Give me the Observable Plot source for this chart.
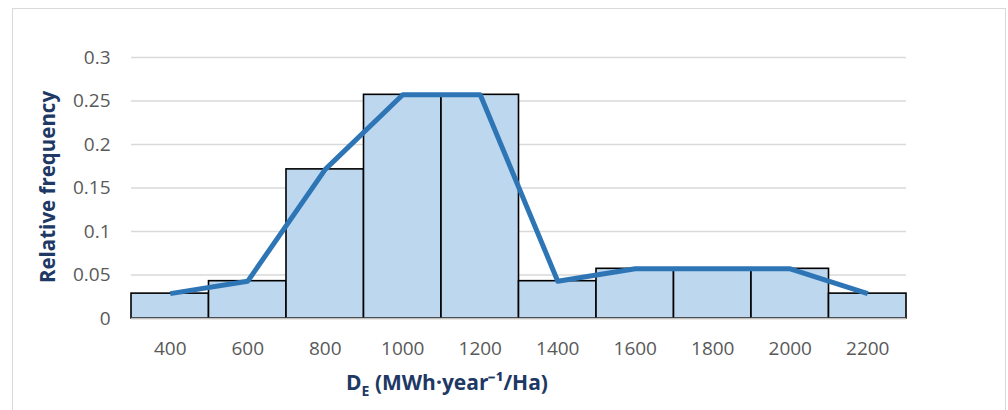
<!DOCTYPE html>
<html>
<head>
<meta charset="utf-8">
<script src="https://cdn.jsdelivr.net/npm/d3@7"></script>
<script src="https://cdn.jsdelivr.net/npm/@observablehq/plot@0.6"></script>
<style>
  body { margin: 0; background: #fff; }
  #wrap { position: relative; width: 1008px; height: 410px; overflow: hidden; }
  #border { position: absolute; left: 12px; top: 8px; width: 994px; height: 420px; border: 1.5px solid #D9D9D9; box-sizing: border-box; }
  #chart { position: absolute; left: 0; top: 0; }
  #chart g[aria-label$="tick label"] { font-size: 19px !important; fill: #595959; }
</style>
</head>
<body>
<div id="wrap"><div id="border"></div><div id="chart"></div></div>
<script>
// Bin centres (MWh·year⁻¹/Ha) and relative frequencies
const binCenters = [400, 600, 800, 1000, 1200, 1400, 1600, 1800, 2000, 2200];
const relFreq = [0.0286, 0.0429, 0.1714, 0.2571, 0.2571, 0.0429, 0.0571, 0.0571, 0.0571, 0.0286];
const binWidth = 200;
const yTicks = [0, 0.05, 0.1, 0.15, 0.2, 0.25, 0.3];
const yTickLabels = ["0", "0.05", "0.1", "0.15", "0.2", "0.25", "0.3"];

const data = binCenters.map((c, i) => ({c, x1: c - binWidth / 2, x2: c + binWidth / 2, f: relFreq[i]}));

const chart = Plot.plot({
  width: 1008,
  height: 410,
  marginLeft: 131,
  marginRight: 102,
  marginTop: 57,
  marginBottom: 92,
  style: {fontFamily: "'Open Sans', sans-serif", fontSize: "19px", color: "#595959", background: "transparent"},
  x: {domain: [binCenters[0] - binWidth / 2, binCenters[binCenters.length - 1] + binWidth / 2]},
  y: {domain: [0, 0.3]},
  marks: [
    Plot.gridY(yTicks, {stroke: "#D9D9D9", strokeOpacity: 1, strokeWidth: 1.5}),
    Plot.rectY(data, {x1: "x1", x2: "x2", y: "f", fill: "#BDD7EE", stroke: "#000", strokeWidth: 1.6}),
    Plot.ruleY([0], {stroke: "#BFBFBF", strokeWidth: 1.5}),
    Plot.axisX(binCenters, {tickSize: 0, tickPadding: 23, label: null, tickFormat: d => String(d), fill: "#595959"}),
    Plot.axisY(yTicks, {tickSize: 0, tickPadding: 21, label: null, tickFormat: (d, i) => yTickLabels[i], fill: "#595959"}),
    Plot.line(data, {x: "c", y: "f", stroke: "#2E75B6", strokeWidth: 5, strokeLinejoin: "round", strokeLinecap: "butt"})
  ]
});

const svg = d3.select(chart);
// Y axis title
svg.append("text")
  .attr("transform", "translate(55,187) rotate(-90)")
  .attr("text-anchor", "middle")
  .attr("font-family", "'Open Sans', sans-serif")
  .attr("font-weight", "bold")
  .attr("font-size", 20.5)
  .attr("fill", "#203864")
  .text("Relative frequency");
// X axis title with subscript
const xt = svg.append("text")
  .attr("x", 447).attr("y", 390)
  .attr("text-anchor", "middle")
  .attr("font-family", "'Open Sans', sans-serif")
  .attr("font-weight", "bold")
  .attr("font-size", 21)
  .attr("fill", "#203864");
xt.append("tspan").text("D");
xt.append("tspan").attr("font-size", 14).attr("dy", 6).text("E");
xt.append("tspan").attr("dy", -6).text(" (MWh·year⁻¹/Ha)");

document.getElementById("chart").appendChild(chart);
</script>
</body>
</html>
